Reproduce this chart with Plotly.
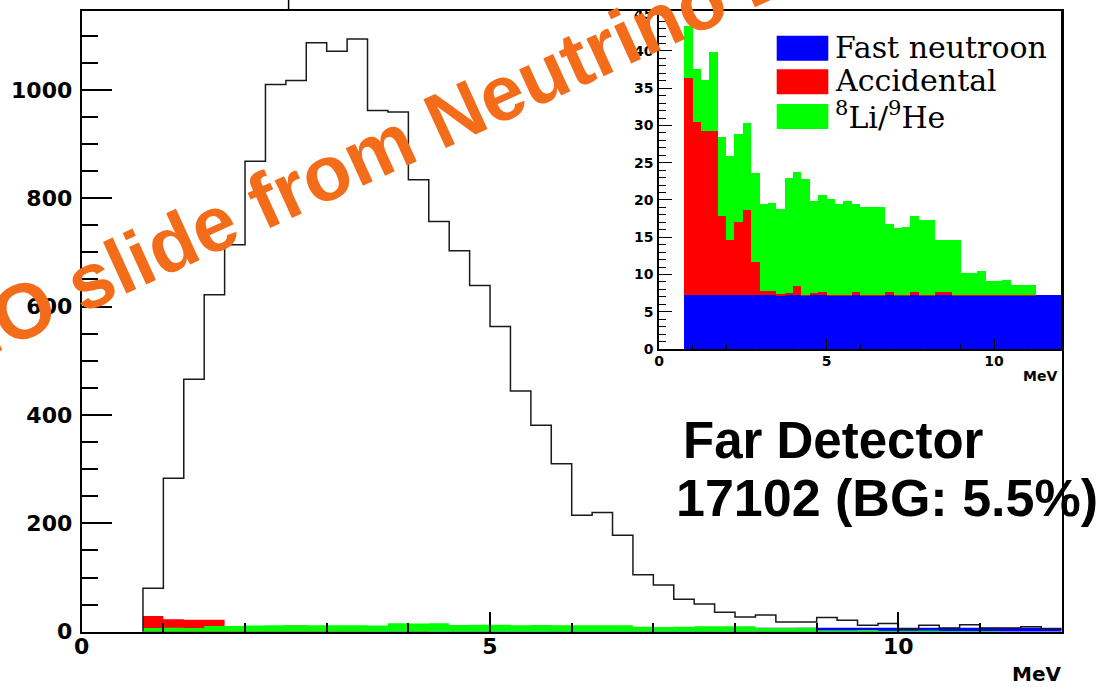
import plotly.graph_objects as go

# ---------------- data ----------------
bin_edges = [0.75, 1.0, 1.25, 1.5, 1.75, 2.0, 2.25, 2.5, 2.75, 3.0, 3.25, 3.5,
             3.75, 4.0, 4.25, 4.5, 4.75, 5.0, 5.25, 5.5, 5.75, 6.0, 6.25, 6.5,
             6.75, 7.0, 7.25, 7.5, 7.75, 8.0, 8.25, 8.5, 8.75, 9.0, 9.25, 9.5,
             9.75, 10.0, 10.25, 10.5, 10.75, 11.0, 11.25, 11.5, 11.75, 12.0]

far_counts = [80, 283, 466, 622, 714, 868, 1010, 1017, 1087, 1071, 1094, 962,
              959, 834, 757, 703, 639, 563, 444, 381, 310, 215, 220, 178,
              105, 86, 60, 51, 36, 27, 31, 18, 18, 26, 21, 12,
              15, 5, 12, 7, 13, 7, 7, 9, 5]

fast_neutron = [7.25, 7.25, 7.25, 7.25, 7.25, 7.25, 7.25, 7.25, 7.25, 7.25, 7.25, 7.25,
                7.25, 7.25, 7.25, 7.25, 7.25, 7.25, 7.25, 7.25, 7.25, 7.25, 7.25, 7.25,
                7.25, 7.25, 7.25, 7.25, 7.25, 7.25, 7.25, 7.25, 7.25, 7.25, 7.25, 7.25,
                7.25, 7.25, 7.25, 7.25, 7.25, 7.25, 7.25, 7.25, 7.25]

accidental = [29.2, 23.2, 22.0, 22.0, 10.6, 7.4, 9.8, 11.4, 4.4, 0.6, 0.6, 0.2,
              0.3, 1.2, 0.1, 0.3, 0.5, 0.1, 0.1, 0.1, 0.5, 0.1, 0.1, 0.1,
              0.5, 0.1, 0.1, 0.5, 0.1, 0.1, 0.5, 0.5, 0.1, 0.1, 0.1, 0.1,
              0.1, 0.1, 0.1, 0.1, 0.1, 0.1, 0.0, 0.0, 0.0]

li_he = [6.9, 7.2, 6.9, 10.6, 10.7, 11.3, 11.8, 11.7, 12.0, 11.7, 11.8, 11.4,
         15.4, 15.3, 15.5, 12.4, 13.0, 12.8, 12.1, 12.5, 11.7, 11.7, 11.7, 11.7,
         9.1, 8.9, 9.1, 10.1, 10.0, 10.0, 6.9, 6.9, 7.3, 2.9, 2.9, 3.1,
         1.8, 1.8, 2.0, 1.3, 1.3, 1.3, 0.0, 0.0, 0.0]

bg_names = ["Fast neutroon", "Accidental", "<sup>8</sup>Li/<sup>9</sup>He"]
bg_colors = ["#0000FF", "#FF0000", "#00FF00"]

main_y_ticks = [0, 200, 400, 600, 800, 1000]
x_ticks = [0, 5, 10]
inset_y_ticks = [0, 5, 10, 15, 20, 25, 30, 35, 40, 45]

# ---------------- geometry helpers ----------------
W, H = 1108, 687


def fx(p):
    return p / W


def fy(p):
    return 1 - p / H


fig = go.Figure()

# main plot: backgrounds overlaid (blue, red, green), then the data outline
for vals, col in [(fast_neutron, bg_colors[0]), (accidental, bg_colors[1]), (li_he, bg_colors[2])]:
    fig.add_trace(go.Scatter(
        x=bin_edges, y=vals + [vals[-1]], mode="lines", line_shape="hv",
        line=dict(width=0, color=col), fill="tozeroy", fillcolor=col,
        xaxis="x", yaxis="y", hoverinfo="skip"))

fig.add_trace(go.Scatter(
    x=[bin_edges[0]] + bin_edges, y=[0] + far_counts + [far_counts[-1]],
    mode="lines", line_shape="hv", line=dict(color="#1a1a1a", width=1.5),
    xaxis="x", yaxis="y"))

# inset: stacked backgrounds
for vals, col, name in zip([fast_neutron, accidental, li_he], bg_colors, bg_names):
    fig.add_trace(go.Bar(
        x=bin_edges[:-1], y=vals, width=0.25, offset=0, name=name,
        marker=dict(color=col, line=dict(width=0)),
        xaxis="x2", yaxis="y2"))

tick_font_main = dict(family="DejaVu Sans", size=22, color="black", weight="bold")
tick_font_inset = dict(family="DejaVu Sans", size=14, color="black", weight="bold")

fig.update_layout(
    width=W, height=H, autosize=False,
    margin=dict(l=0, r=0, t=0, b=0),
    paper_bgcolor="white", plot_bgcolor="white",
    showlegend=False, barmode="stack", bargap=0,
    template="none",
    xaxis=dict(domain=[fx(81.7), fx(1061.7)], range=[0, 12], anchor="y",
               tickvals=x_ticks, ticks="inside", ticklen=20, tickwidth=1.5,
               tickcolor="black",
               minor=dict(tickvals=[1, 2, 3, 4, 6, 7, 8, 9, 11], ticks="inside",
                          ticklen=9, tickwidth=1.5, tickcolor="black"),
               showline=True, linecolor="black", linewidth=2, mirror=True,
               showgrid=False, zeroline=False, tickfont=tick_font_main,
               ticklabelstandoff=-6),
    yaxis=dict(domain=[fy(631.7), fy(10.7)], range=[0, 1146], anchor="x",
               tickvals=main_y_ticks, ticks="inside", ticklen=30, tickwidth=1.5,
               tickcolor="black",
               minor=dict(dtick=50, tick0=0, ticks="inside", ticklen=16,
                          tickwidth=1.5, tickcolor="black"),
               showline=True, linecolor="black", linewidth=2, mirror=True,
               showgrid=False, zeroline=False, tickfont=tick_font_main,
               ticklabelstandoff=3),
    xaxis2=dict(domain=[fx(659), fx(1061)], range=[0, 12], anchor="y2",
                tickvals=x_ticks, ticks="inside", ticklen=10, tickwidth=1.2,
                tickcolor="black",
                minor=dict(tickvals=[1, 2, 3, 4, 6, 7, 8, 9, 11], ticks="inside",
                           ticklen=5, tickwidth=1, tickcolor="black"),
                showline=True, linecolor="black", linewidth=1.5, mirror=True,
                showgrid=False, zeroline=False, tickfont=tick_font_inset,
                ticklabelstandoff=-2),
    yaxis2=dict(domain=[fy(349), fy(10.7)], range=[0, 45.4], anchor="x2",
                tickvals=inset_y_ticks, ticks="inside", ticklen=13, tickwidth=1.2,
                tickcolor="black",
                minor=dict(dtick=1, tick0=0, ticks="inside", ticklen=7,
                           tickwidth=1, tickcolor="black"),
                showline=True, linecolor="black", linewidth=1.5, mirror=True,
                showgrid=False, zeroline=False, tickfont=tick_font_inset,
                ticklabelstandoff=1),
)

# legend of the inset, drawn as boxes + labels
legend_rows = [(35.7, 60.7), (69.3, 94.3), (104.0, 129.0)]
for (top, bot), col, name in zip(legend_rows, bg_colors, bg_names):
    fig.add_shape(type="rect", xref="paper", yref="paper",
                  x0=fx(776.7), x1=fx(828.3), y0=fy(bot), y1=fy(top),
                  fillcolor=col, line=dict(width=0), layer="above")
    fig.add_annotation(xref="paper", yref="paper", x=fx(833), y=fy((top + bot) / 2 - 1),
                       xanchor="left", yanchor="middle", showarrow=False, text=name,
                       font=dict(family="DejaVu Serif", size=30, color="black"))

# axis titles (MeV)
fig.add_annotation(xref="paper", yref="paper", x=fx(1063), y=fy(674),
                   xanchor="right", yanchor="middle", showarrow=False, text="MeV",
                   font=dict(family="DejaVu Sans", size=20, color="black", weight="bold"))
fig.add_annotation(xref="paper", yref="paper", x=fx(1059), y=fy(376),
                   xanchor="right", yanchor="middle", showarrow=False, text="MeV",
                   font=dict(family="DejaVu Sans", size=14, color="black", weight="bold"))

# detector label
fig.add_annotation(xref="paper", yref="paper", x=fx(681), y=fy(440),
                   xanchor="left", yanchor="middle", showarrow=False, text="Far Detector",
                   font=dict(family="Liberation Sans", size=51, color="black", weight="bold"))
fig.add_annotation(xref="paper", yref="paper", x=fx(674), y=fy(498),
                   xanchor="left", yanchor="middle", showarrow=False,
                   text="17102 (BG: 5.5%)",
                   font=dict(family="Liberation Sans", size=52, color="black", weight="bold"))

# small slide artefact above the frame
fig.add_shape(type="line", xref="paper", yref="paper", x0=fx(288.6), x1=fx(288.6),
              y0=fy(10.7), y1=1.0, line=dict(color="black", width=1.5))

# watermark
fig.add_annotation(xref="paper", yref="paper", x=fx(372), y=fy(152),
                   xanchor="center", yanchor="middle", showarrow=False,
                   text="RENO slide from Neutrino 2012", textangle=-24.5,
                   font=dict(family="Liberation Sans", size=78, color="#F36C1A", weight="bold"))

fig.write_html("out.html")
